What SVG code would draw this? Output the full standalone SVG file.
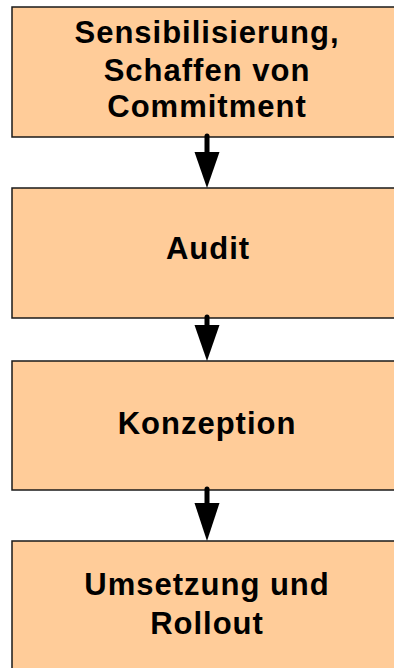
<svg xmlns="http://www.w3.org/2000/svg" width="394" height="668" viewBox="0 0 394 668">
  <style>
    .box { fill: #FFCC99; stroke: #1a1a1a; stroke-width: 1.5; }
    .label { font-family: "Liberation Sans", Arial, sans-serif; font-weight: bold; font-size: 31px; letter-spacing: 1px; fill: #000; text-anchor: middle; }
    .shaft { stroke: #000; stroke-width: 5; stroke-linecap: round; fill: none; }
    .head { fill: #000; }
  </style>

  <!-- process steps -->
  <g id="step-sensibilisierung">
    <rect class="box" x="12" y="7" width="392" height="130"/>
    <text class="label" x="207" y="43">Sensibilisierung,</text>
    <text class="label" x="207" y="81">Schaffen von</text>
    <text class="label" x="207" y="117">Commitment</text>
  </g>

  <g id="step-audit">
    <rect class="box" x="12" y="188" width="392" height="130"/>
    <text class="label" x="208" y="259">Audit</text>
  </g>

  <g id="step-konzeption">
    <rect class="box" x="12" y="361" width="392" height="129"/>
    <text class="label" x="207" y="434">Konzeption</text>
  </g>

  <g id="step-umsetzung">
    <rect class="box" x="12" y="541" width="392" height="132"/>
    <text class="label" x="207" y="595">Umsetzung und</text>
    <text class="label" x="207" y="634">Rollout</text>
  </g>

  <!-- connectors between steps -->
  <g id="connectors">
    <line class="shaft" x1="207" y1="136" x2="207" y2="154"/>
    <polygon class="head" points="194.5,152 219.5,152 207,188"/>

    <line class="shaft" x1="207" y1="317" x2="207" y2="327"/>
    <polygon class="head" points="194.5,325 219.5,325 207,361"/>

    <line class="shaft" x1="207" y1="489" x2="207" y2="505"/>
    <polygon class="head" points="194.5,503 219.5,503 207,541"/>
  </g>
</svg>
